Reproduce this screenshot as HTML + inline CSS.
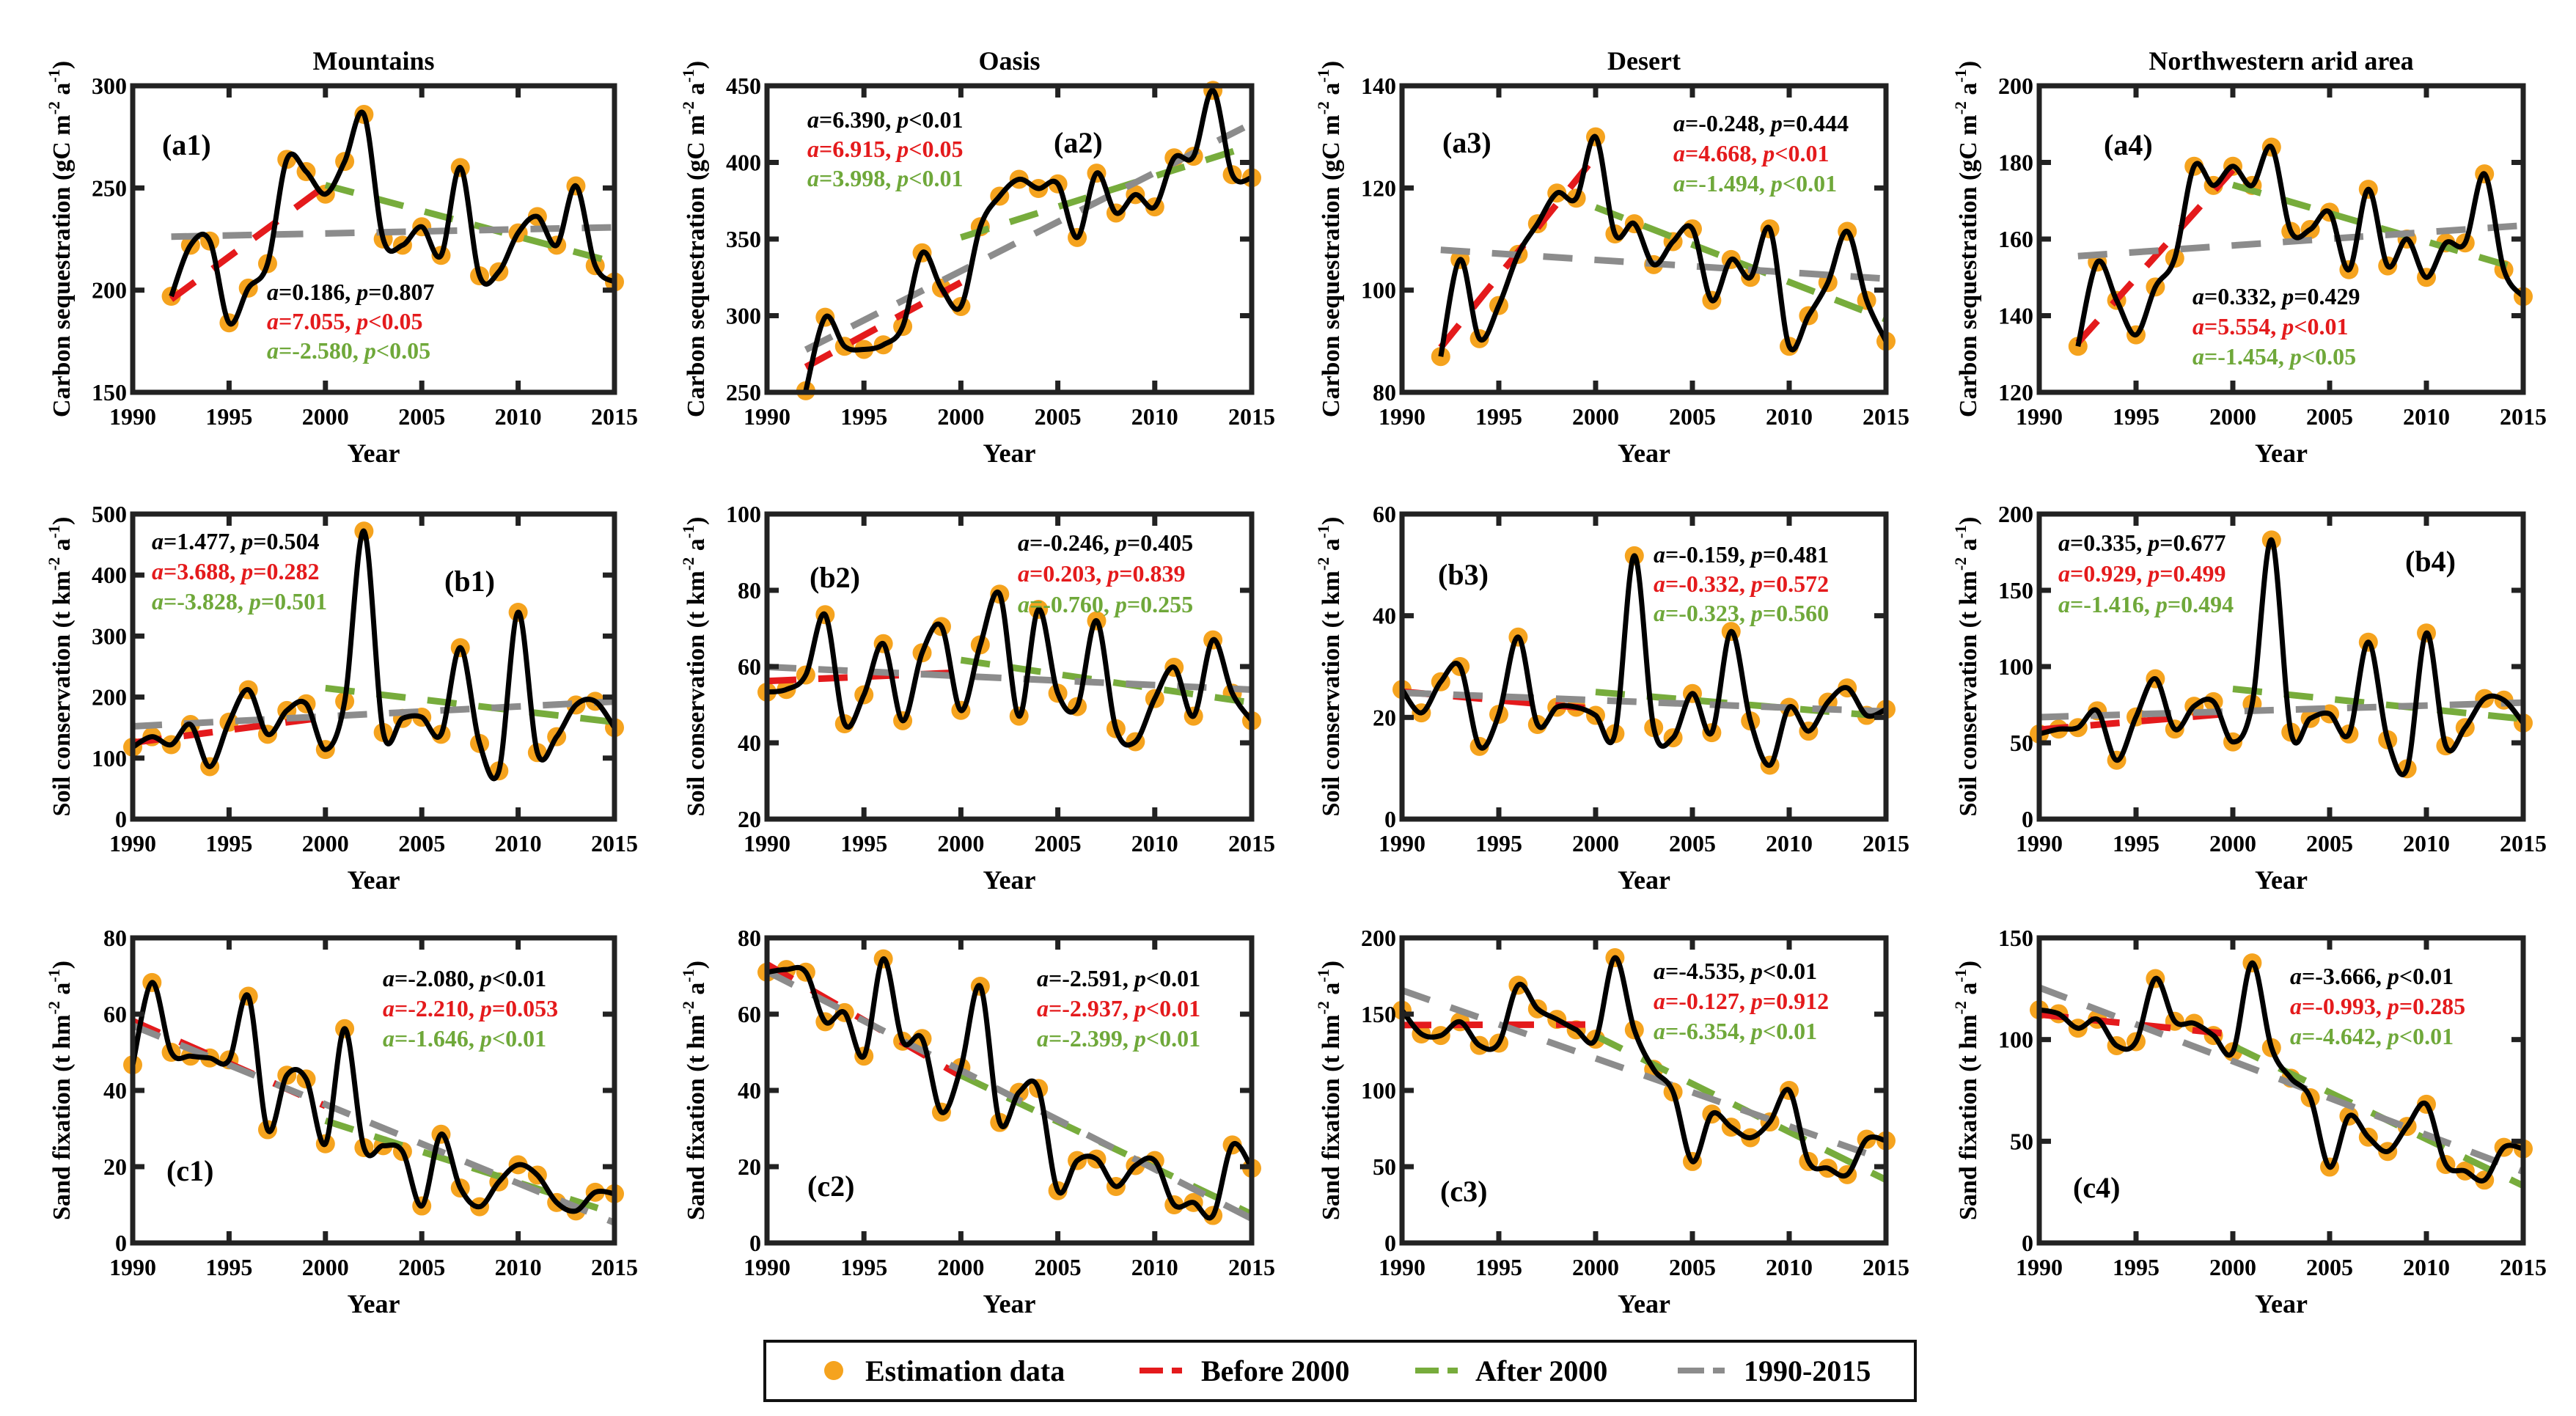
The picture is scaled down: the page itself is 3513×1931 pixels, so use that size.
<!DOCTYPE html>
<html><head><meta charset="utf-8">
<style>
html,body{margin:0;padding:0;background:#fff;}
svg{display:block;font-family:"Liberation Serif",serif;font-weight:bold;}
</style></head>
<body>
<svg id="fig" width="3513" height="1931" viewBox="0 0 3513 1931" xmlns="http://www.w3.org/2000/svg">
<rect width="3513" height="1931" fill="#fff"/>
<g id="panels"></g>
<g>
  <rect x="1043" y="1829" width="1569" height="81" fill="#fff" stroke="#111" stroke-width="4"/>
  <circle cx="1137" cy="1869" r="13" fill="#F5A31E"/>
  <text x="1180" y="1883" font-size="40">Estimation data</text>
  <line x1="1554" y1="1869" x2="1624" y2="1869" stroke="#E41A1C" stroke-width="8" stroke-dasharray="32,12,14"/>
  <text x="1638" y="1883" font-size="40">Before 2000</text>
  <line x1="1930" y1="1869" x2="2000" y2="1869" stroke="#77AC3C" stroke-width="8" stroke-dasharray="32,12,14"/>
  <text x="2012" y="1883" font-size="40">After 2000</text>
  <line x1="2288" y1="1869" x2="2366" y2="1869" stroke="#8C8C8C" stroke-width="8" stroke-dasharray="36,12,16"/>
  <text x="2378" y="1883" font-size="40">1990-2015</text>
</g>
</svg>
<script>
// ---- data ----
const yearsA = [1992,1993,1994,1995,1996,1997,1998,1999,2000,2001,2002,2003,2004,2005,2006,2007,2008,2009,2010,2011,2012,2013,2014,2015];
const yearsBC = [1990,1991,1992,1993,1994,1995,1996,1997,1998,1999,2000,2001,2002,2003,2004,2005,2006,2007,2008,2009,2010,2011,2012,2013,2014,2015];
const carbonMountains = [197,222,224,184,201,213,264,258,247,263,286,225,222,231,217,260,207,209,228,236,222,251,212,204];
const carbonOasis = [251,299,280,278,281,293,341,318,306,358,378,389,383,386,351,393,367,379,371,403,404,447,392,390];
const carbonDesert = [87,106,90.5,97,107,113,119,118,130,111,113,105,109.5,112,98,106,102.5,112,89,95,101.5,111.5,98,90];
const carbonArid = [132,154,144,135,147.5,155,179,174,179,174,184,162,162.5,167,152,173,153,160,150,159,159,177,152,145];
const soilMountains = [118,135,122,155,86,159,212,139,178,189,114,193,472,142,165,167,139,281,124,79,339,109,135,187,193,150];
const soilOasis = [53.3,54,57.8,73.6,45,52.6,66,45.8,63.6,70.5,48.5,65.7,79,47,75,53,49.5,72,43.7,40.3,51.6,59.8,47,67,53,45.8];
const soilDesert = [25.5,20.9,27,30,14.3,20.6,35.8,18.6,22,22,20.4,16.8,51.8,18,16,24.7,17,36.9,19.3,10.6,22,17.3,23,25.8,20.4,21.6];
const soilArid = [55.8,59,60,71,38.6,67,92,59,74,77,50.6,75.5,183,57,66,69,55.8,116,52,33,122,48,60,79,78,63];
const sandMountains = [46.7,68.3,50,49,48.5,48,64.7,29.7,44,43,26,56.2,25,25.5,24,9.7,28.5,14.4,9.5,16,20.5,17.8,10.6,8.4,13.3,12.9];
const sandOasis = [71,71.7,71,58,60.4,49,74.5,52.9,53.6,34.3,46,67.3,31.6,39.5,40.5,13.7,21.6,22,14.8,20.3,21.6,10,10.6,7.2,25.7,19.6];
const sandDesert = [152.6,137,136,145,129.5,131,169,153.5,146.6,139.7,133.6,187,139.7,113.8,99,53.4,84.5,75.9,69,79.3,100,53.4,49,44.8,68,67];
const sandArid = [114.6,112.7,105.6,110,97,99,130,109,108,102,94,137.7,96,81,71.4,37.3,62.4,52,45,57.3,68.2,38.6,35.4,30.9,47,46.3];
const xTicks = [1990,1995,2000,2005,2010,2015];
const yTicksCarbonMountains = [150,200,250,300];
const yTicksCarbonOasis = [250,300,350,400,450];
const yTicksCarbonDesert = [80,100,120,140];
const yTicksCarbonArid = [120,140,160,180,200];
const yTicksSoilMountains = [0,100,200,300,400,500];
const yTicksSoilOasis = [20,40,60,80,100];
const yTicksSoilDesert = [0,20,40,60];
const yTicksSoilArid = [0,50,100,150,200];
const yTicksSandSmall = [0,20,40,60,80];
const yTicksSandDesert = [0,50,100,150,200];
const yTicksSandArid = [0,50,100,150];
const statsText = [
 ["a=0.186, p=0.807","a=7.055, p<0.05","a=-2.580, p<0.05"],
 ["a=6.390, p<0.01","a=6.915, p<0.05","a=3.998, p<0.01"],
 ["a=-0.248, p=0.444","a=4.668, p<0.01","a=-1.494, p<0.01"],
 ["a=0.332, p=0.429","a=5.554, p<0.01","a=-1.454, p<0.05"],
 ["a=1.477, p=0.504","a=3.688, p=0.282","a=-3.828, p=0.501"],
 ["a=-0.246, p=0.405","a=0.203, p=0.839","a=-0.760, p=0.255"],
 ["a=-0.159, p=0.481","a=-0.332, p=0.572","a=-0.323, p=0.560"],
 ["a=0.335, p=0.677","a=0.929, p=0.499","a=-1.416, p=0.494"],
 ["a=-2.080, p<0.01","a=-2.210, p=0.053","a=-1.646, p<0.01"],
 ["a=-2.591, p<0.01","a=-2.937, p<0.01","a=-2.399, p<0.01"],
 ["a=-4.535, p<0.01","a=-0.127, p=0.912","a=-6.354, p<0.01"],
 ["a=-3.666, p<0.01","a=-0.993, p=0.285","a=-4.642, p<0.01"]
];
const panelLabels = ["(a1)","(a2)","(a3)","(a4)","(b1)","(b2)","(b3)","(b4)","(c1)","(c2)","(c3)","(c4)"];
const columnTitles = ["Mountains","Oasis","Desert","Northwestern arid area"];

// ---- layout ----
const colX = [[181,838],[1046,1707],[1912,2572],[2781,3441]];
const rowY = [[117,535],[701,1117],[1279,1695]];
const yTitles = [["Carbon sequestration (gC m","-2"," a","-1",")"],["Soil conservation (t km","-2"," a","-1",")"],["Sand fixation (t hm","-2"," a","-1",")"]];
const panels = [
 {r:0,c:0,years:yearsA,vals:carbonMountains,ticks:yTicksCarbonMountains,st:[183,292,40],lb:[40,94]},
 {r:0,c:1,years:yearsA,vals:carbonOasis,ticks:yTicksCarbonOasis,st:[55,57,40],lb:[391,91]},
 {r:0,c:2,years:yearsA,vals:carbonDesert,ticks:yTicksCarbonDesert,st:[370,62,41],lb:[55,91]},
 {r:0,c:3,years:yearsA,vals:carbonArid,ticks:yTicksCarbonArid,st:[209,298,41],lb:[88,94]},
 {r:1,c:0,years:yearsBC,vals:soilMountains,ticks:yTicksSoilMountains,st:[26,48,41],lb:[425,105]},
 {r:1,c:1,years:yearsBC,vals:soilOasis,ticks:yTicksSoilOasis,st:[342,50,42],lb:[58,100]},
 {r:1,c:2,years:yearsBC,vals:soilDesert,ticks:yTicksSoilDesert,st:[343,66,40],lb:[49,96]},
 {r:1,c:3,years:yearsBC,vals:soilArid,ticks:yTicksSoilArid,st:[26,50,42],lb:[499,78]},
 {r:2,c:0,years:yearsBC,vals:sandMountains,ticks:yTicksSandSmall,st:[341,66,41],lb:[46,331]},
 {r:2,c:1,years:yearsBC,vals:sandOasis,ticks:yTicksSandSmall,st:[368,66,41],lb:[55,352]},
 {r:2,c:2,years:yearsBC,vals:sandDesert,ticks:yTicksSandDesert,st:[343,56,41],lb:[52,359]},
 {r:2,c:3,years:yearsBC,vals:sandArid,ticks:yTicksSandArid,st:[342,63,41],lb:[46,354]}
];
const NS = "http://www.w3.org/2000/svg";
const root = document.getElementById('panels');
function mk(tag, attrs, parent){
  const e = document.createElementNS(NS, tag);
  for (const k in attrs) e.setAttribute(k, attrs[k]);
  parent.appendChild(e); return e;
}
function fit(xs, ys){
  const n = xs.length; let sx=0, sy=0, sxx=0, sxy=0;
  for (let i=0;i<n;i++){sx+=xs[i];sy+=ys[i];sxx+=xs[i]*xs[i];sxy+=xs[i]*ys[i];}
  const b = (n*sxy-sx*sy)/(n*sxx-sx*sx); const a = (sy-b*sx)/n; return [a,b];
}
const colors = {orange:"#F5A31E", red:"#E41A1C", green:"#77AC3C", gray:"#8C8C8C"};

panels.forEach((p, idx) => {
  const [x0,x1] = colX[p.c], [y0,y1] = rowY[p.r];
  const ymin = p.ticks[0], ymax = p.ticks[p.ticks.length-1];
  const X = yr => x0 + (yr-1990)/25*(x1-x0);
  const Y = v => y1 - (v-ymin)/(ymax-ymin)*(y1-y0);
  const g = mk('g', {}, root);
  
  

  if (p.r === 0) {
    const t = mk('text', {x:(x0+x1)/2, y:y0-22, 'font-size':36, 'text-anchor':'middle'}, g);
    t.textContent = columnTitles[p.c];
    
    
  }
  const plot = mk('g', {}, g);

  p.years.forEach((yr,i) => {
    const c = mk('circle', {cx:X(yr), cy:Y(p.vals[i]), r:13, fill:colors.orange}, plot);
    
    
  });
  const segs = [
    {col:colors.red, name:'trend-before-2000', f:yr=>yr<=2000, from:p.years[0], to:2000},
    {col:colors.green, name:'trend-after-2000', f:yr=>yr>=2000, from:2000, to:2015},
    {col:colors.gray, name:'trend-1990-2015', f:yr=>true, from:p.years[0], to:2015}
  ];
  segs.forEach(s => {
    const xs=[], ys=[];
    p.years.forEach((yr,i)=>{ if(s.f(yr)){xs.push(yr);ys.push(p.vals[i]);} });
    const [a,b] = fit(xs,ys);
    const l = mk('line', {x1:X(s.from), y1:Y(a+b*s.from), x2:X(s.to), y2:Y(a+b*s.to), stroke:s.col, 'stroke-width':9, 'stroke-dasharray':'40,30'}, plot);
    
    
  });
  const pts = p.years.map((yr,i)=>[X(yr), Y(p.vals[i])]);
  let d = 'M'+pts[0][0]+','+pts[0][1];
  for (let i=0;i<pts.length-1;i++){
    const p0 = pts[Math.max(i-1,0)], p1 = pts[i], p2 = pts[i+1], p3 = pts[Math.min(i+2,pts.length-1)];
    const c1 = [p1[0]+(p2[0]-p0[0])/6, p1[1]+(p2[1]-p0[1])/6];
    const c2 = [p2[0]-(p3[0]-p1[0])/6, p2[1]-(p3[1]-p1[1])/6];
    d += ' C'+c1[0]+','+c1[1]+' '+c2[0]+','+c2[1]+' '+p2[0]+','+p2[1];
  }
  const path = mk('path', {d:d, fill:'none', stroke:'#000', 'stroke-width':7, 'stroke-linejoin':'round'}, plot);
  
  

  const box = mk('rect', {x:x0, y:y0, width:x1-x0, height:y1-y0, fill:'none', stroke:'#222', 'stroke-width':7}, g);
  
  
  xTicks.forEach(t => {
    const x = X(t);
    mk('line', {x1:x, y1:y1, x2:x, y2:y1-16, stroke:'#222', 'stroke-width':7}, g);
    mk('line', {x1:x, y1:y0, x2:x, y2:y0+16, stroke:'#222', 'stroke-width':7}, g);
    const tl = mk('text', {x:x, y:y1+44, 'font-size':32, 'text-anchor':'middle'}, g);
    tl.textContent = t;
    
    
  });
  p.ticks.forEach(t => {
    const y = Y(t);
    mk('line', {x1:x0, y1:y, x2:x0+16, y2:y, stroke:'#222', 'stroke-width':7}, g);
    mk('line', {x1:x1, y1:y, x2:x1-16, y2:y, stroke:'#222', 'stroke-width':7}, g);
    const tl = mk('text', {x:x0-8, y:y+11, 'font-size':32, 'text-anchor':'end'}, g);
    tl.textContent = t;
    
    
  });
  const xt = mk('text', {x:(x0+x1)/2, y:y1+95, 'font-size':36, 'text-anchor':'middle'}, g);
  xt.textContent = 'Year';
  
  
  const yc = (y0+y1)/2, yx = x0-86;
  const yt = mk('text', {x:yx, y:yc, 'font-size':34, 'text-anchor':'middle', transform:'rotate(-90 '+yx+' '+yc+')'}, g);
  
  
  yTitles[p.r].forEach((s,k) => {
    const ts = mk('tspan', {}, yt);
    if (k===1||k===3){ ts.setAttribute('font-size','22'); ts.setAttribute('dy','-14'); }
    else if (k>0){ ts.setAttribute('dy','14'); }
    ts.textContent = s;
  });
  const scol = ['#000', '#E41A1C', '#6FA83A'];
  statsText[idx].forEach((s,k) => {
    const t = mk('text', {x:x0+p.st[0], y:y0+p.st[1]+k*p.st[2], 'font-size':32, fill:scol[k]}, g);
    
    
    const m = s.match(/^a(.*), p(.*)$/);
    const t1 = mk('tspan', {'font-style':'italic'}, t); t1.textContent = 'a';
    const t2 = mk('tspan', {}, t); t2.textContent = m[1] + ', ';
    const t3 = mk('tspan', {'font-style':'italic'}, t); t3.textContent = 'p';
    const t4 = mk('tspan', {}, t); t4.textContent = m[2];
  });
  const pl = mk('text', {x:x0+p.lb[0], y:y0+p.lb[1], 'font-size':40}, g);
  pl.textContent = panelLabels[idx];
  
  
});
</script>
</body></html>
